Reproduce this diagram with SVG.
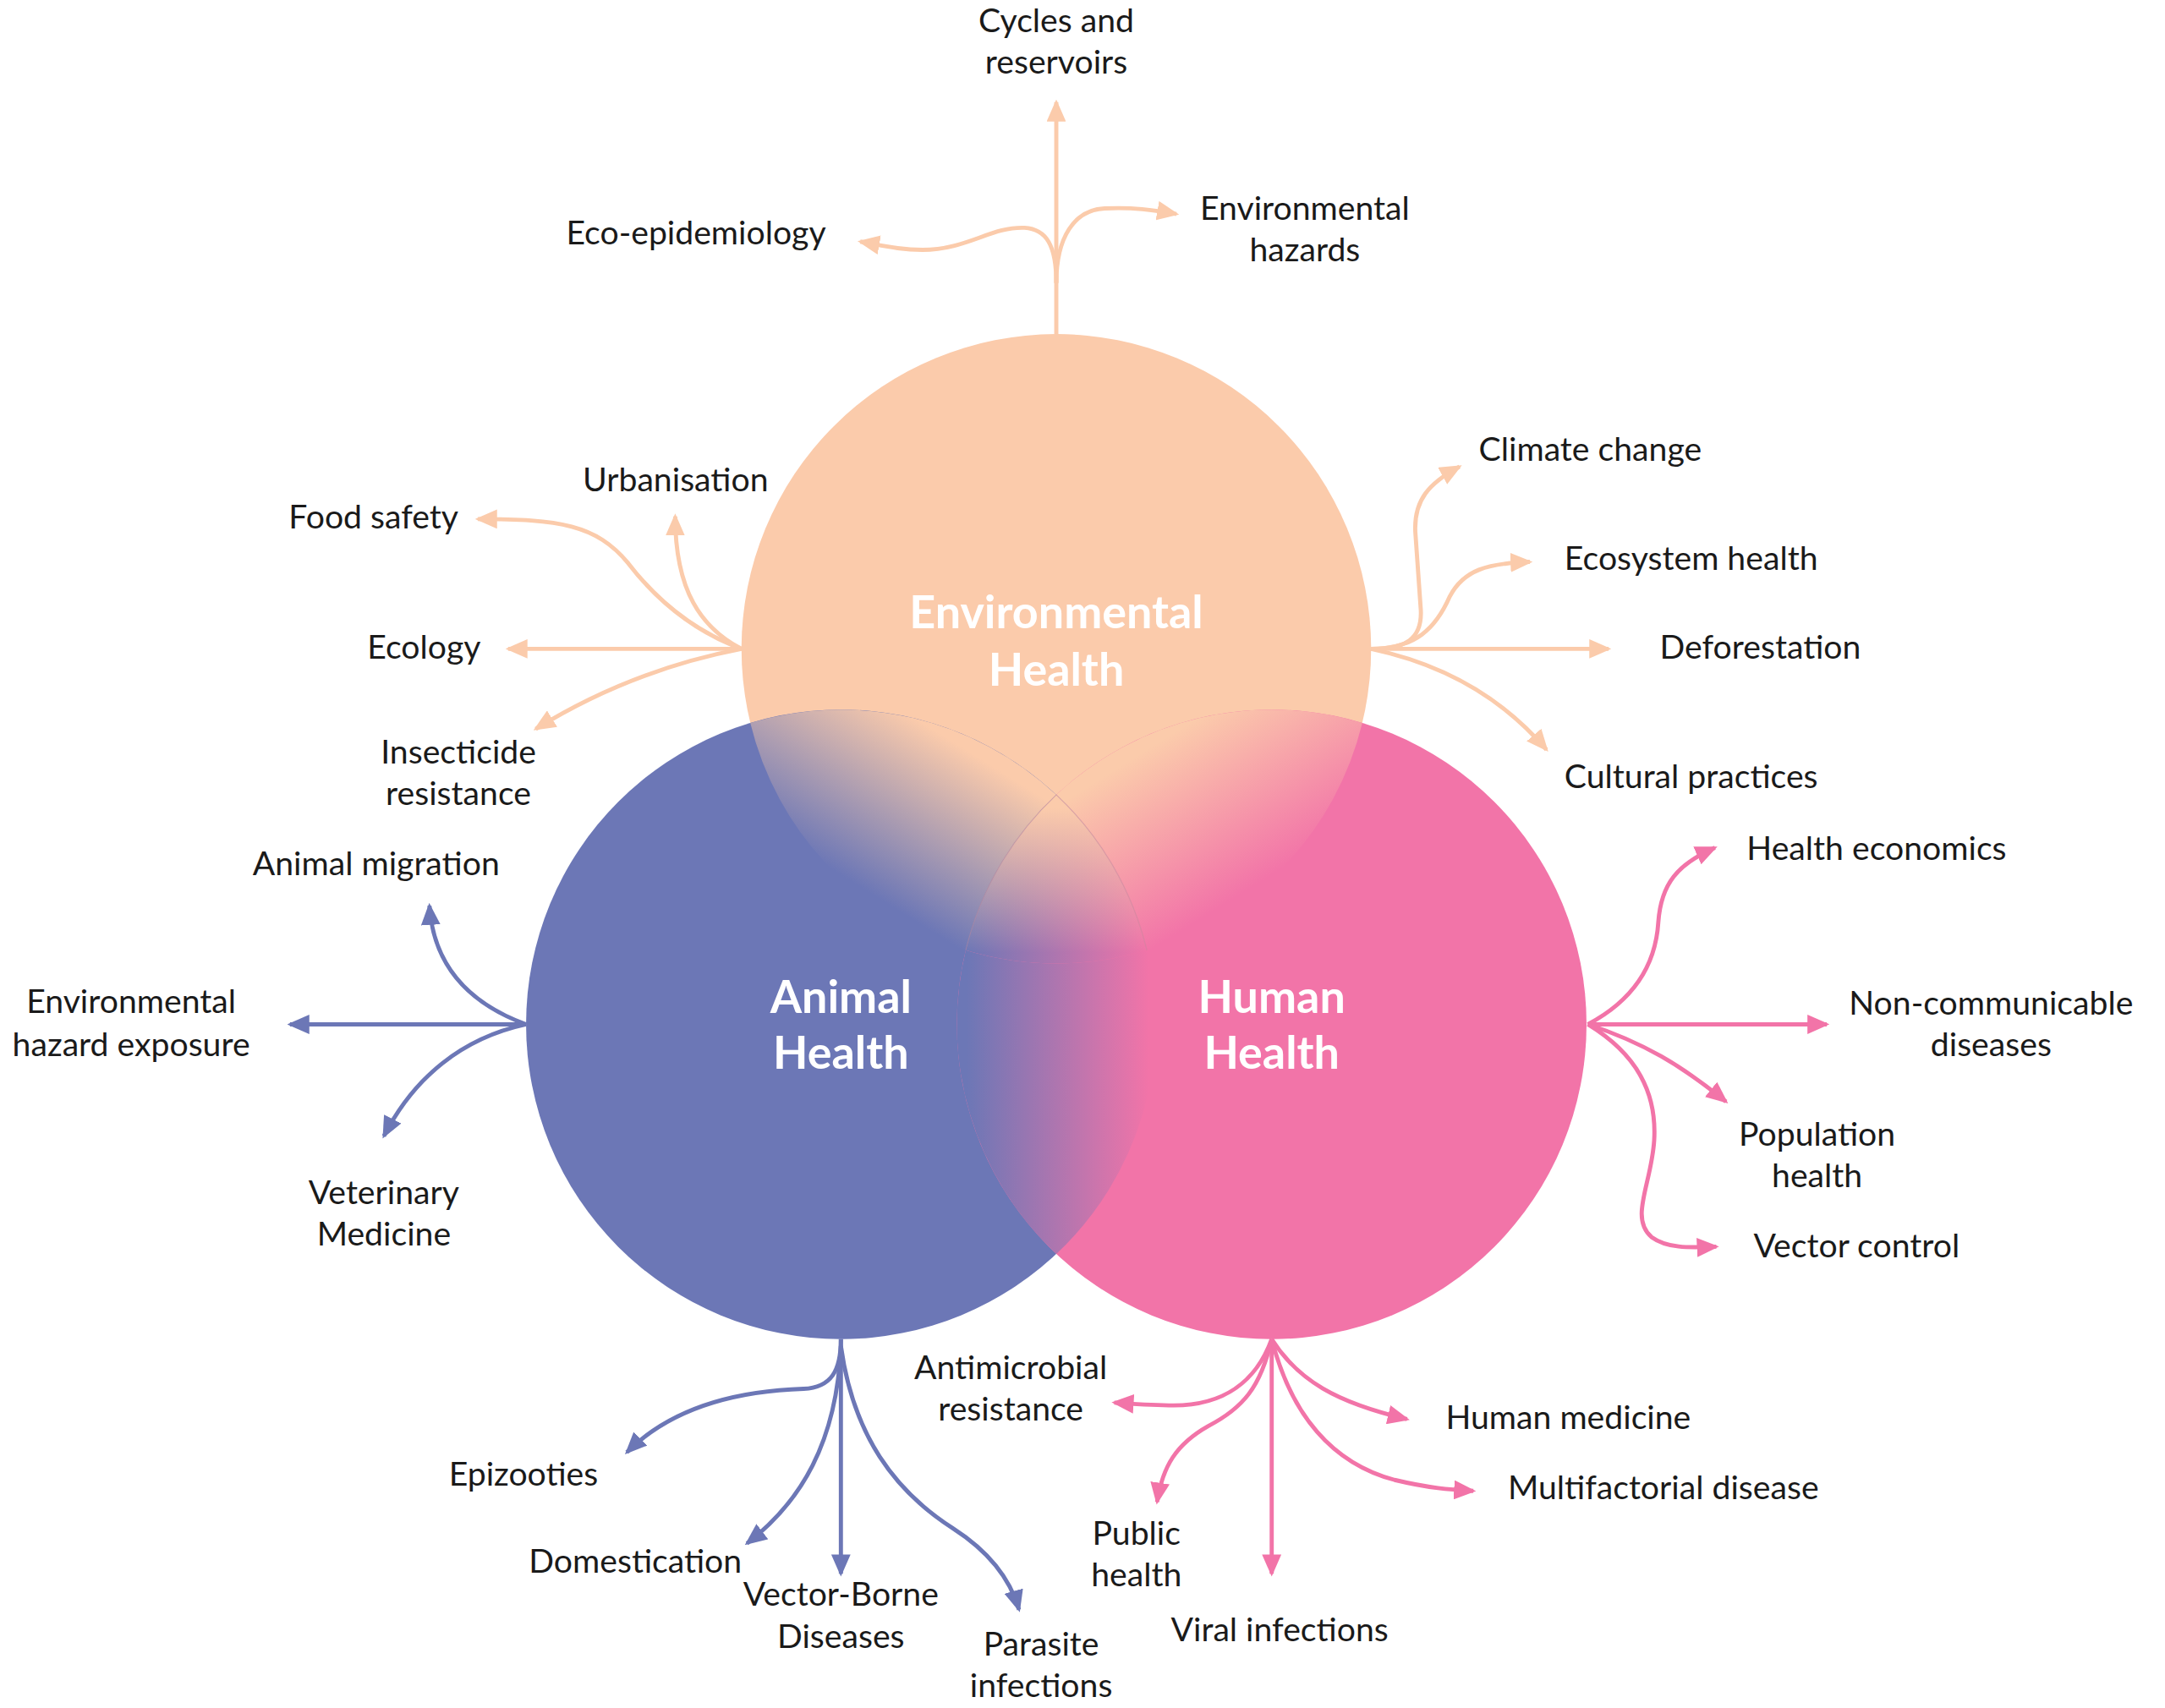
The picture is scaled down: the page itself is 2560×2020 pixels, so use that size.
<svg xmlns="http://www.w3.org/2000/svg" width="2560" height="2020" viewBox="0 0 2560 2020">
<style>
.lbl{font-family:Lato,"Open Sans","Liberation Sans",sans-serif;font-size:24px;fill:#1a1a1a}
.mid{text-anchor:middle}
.ttl{font-family:Lato,"Open Sans","Liberation Sans",sans-serif;font-size:33px;font-weight:700;fill:#ffffff;text-anchor:middle}
.ce{fill:none;stroke:#FBCBAB;stroke-width:3;marker-end:url(#mE)}
.ca{fill:none;stroke:#6C77B6;stroke-width:3;marker-end:url(#mA)}
.ch{fill:none;stroke:#F274A8;stroke-width:3;marker-end:url(#mH)}
</style>
<defs>
<marker id="mE" viewBox="0 0 16 14" markerUnits="userSpaceOnUse" markerWidth="16" markerHeight="14" refX="14" refY="7" orient="auto"><path d="M0,0 L16,7 L0,14 Z" fill="#FBCBAB"/></marker>
<marker id="mA" viewBox="0 0 16 14" markerUnits="userSpaceOnUse" markerWidth="16" markerHeight="14" refX="14" refY="7" orient="auto"><path d="M0,0 L16,7 L0,14 Z" fill="#6C77B6"/></marker>
<marker id="mH" viewBox="0 0 16 14" markerUnits="userSpaceOnUse" markerWidth="16" markerHeight="14" refX="14" refY="7" orient="auto"><path d="M0,0 L16,7 L0,14 Z" fill="#F274A8"/></marker>
<linearGradient id="gL" gradientUnits="userSpaceOnUse" x1="640" y1="653" x2="706" y2="547">
<stop offset="0" stop-color="#6C77B6"/><stop offset="1" stop-color="#FBCBAB"/>
</linearGradient>
<linearGradient id="gR" gradientUnits="userSpaceOnUse" x1="890" y1="653" x2="824" y2="547">
<stop offset="0" stop-color="#F274A8"/><stop offset="1" stop-color="#FBCBAB"/>
</linearGradient>
<linearGradient id="gH" gradientUnits="userSpaceOnUse" x1="700" y1="0" x2="832" y2="0">
<stop offset="0" stop-color="#6C77B6"/><stop offset="1" stop-color="#F274A8"/>
</linearGradient>
<linearGradient id="gT" gradientUnits="userSpaceOnUse" x1="0" y1="585" x2="0" y2="690">
<stop offset="0" stop-color="#FBCBAB" stop-opacity="1"/><stop offset="1" stop-color="#FBCBAB" stop-opacity="0"/>
</linearGradient>
</defs>
<rect width="2560" height="2020" fill="#ffffff"/>
<g transform="scale(1.6327)">
<g id="circles">
<circle id="env-circle" cx="765" cy="470" r="228" fill="#FBCBAB"/>
<circle id="animal-circle" cx="609" cy="742" r="228" fill="#6C77B6"/>
<circle id="human-circle" cx="921" cy="742" r="228" fill="#F274A8"/>
<path id="overlap-env-animal" d="M543.4,523.7 A228,228 0 0 1 765,575.7 A228,228 0 0 0 699.4,688.3 A228,228 0 0 1 543.4,523.7 Z" fill="url(#gL)"/>
<path id="overlap-env-human" d="M986.6,523.7 A228,228 0 0 0 765,575.7 A228,228 0 0 1 830.6,688.3 A228,228 0 0 0 986.6,523.7 Z" fill="url(#gR)"/>
<path id="overlap-animal-human" d="M699.4,688.3 A228,228 0 0 0 765,908.3 A228,228 0 0 0 830.6,688.3 A228,228 0 0 1 699.4,688.3 Z" fill="url(#gH)"/>
<path id="overlap-all" d="M765,575.7 A228,228 0 0 1 830.6,688.3 A228,228 0 0 1 699.4,688.3 A228,228 0 0 1 765,575.7 Z" fill="url(#gH)"/>
<path d="M765,575.7 A228,228 0 0 1 830.6,688.3 A228,228 0 0 1 699.4,688.3 A228,228 0 0 1 765,575.7 Z" fill="url(#gT)"/>
<path d="M699.4,688.3 A228,228 0 0 1 765,575.7 A228,228 0 0 1 830.6,688.3" fill="none" stroke="#B98C9C" stroke-opacity="0.35" stroke-width="0.8"/>
</g>
<g id="connectors">
<path class="ce" d="M765,242 L765,74"/>
<path class="ce" d="M765,205 C765,178 758,166 742,165 C718,164 700,181 668,181 C652,181 640,178 623,175"/>
<path class="ce" d="M765,205 C765,172 778,152 800,151 C820,150 835,152 852,155"/>
<path class="ce" d="M537,470 C505,458 478,438 455,408 C432,380 405,376 346,376"/>
<path class="ce" d="M537,470 C508,455 489,428 489,374"/>
<path class="ce" d="M537,470 L368,470"/>
<path class="ce" d="M537,470 C480,481 430,502 388,528"/>
<path class="ce" d="M993,470 C1018,470 1030,463 1029,442 L1025,385 C1024,362 1035,350 1057,338"/>
<path class="ce" d="M993,470 C1025,470 1040,455 1050,432 C1060,413 1077,408 1108,407"/>
<path class="ce" d="M993,470 L1165,470"/>
<path class="ce" d="M993,470 C1040,480 1085,502 1120,543"/>
<path class="ca" d="M381,742 C343,728 314,702 311,656"/>
<path class="ca" d="M381,742 L210,742"/>
<path class="ca" d="M381,742 C335,752 300,780 278,823"/>
<path class="ca" d="M609,970 C609,993 602,1005 582,1006 C520,1008 480,1026 454,1052"/>
<path class="ca" d="M609,975 C606,1045 580,1088 541,1118"/>
<path class="ca" d="M609,970 L609,1140"/>
<path class="ca" d="M609,975 C618,1040 648,1080 690,1107 C718,1125 732,1145 738,1166"/>
<path class="ch" d="M1150,742 C1182,725 1199,700 1201,668 C1203,640 1215,626 1242,614"/>
<path class="ch" d="M1150,742 L1323,742"/>
<path class="ch" d="M1150,742 C1190,755 1218,772 1250,798"/>
<path class="ch" d="M1150,742 C1186,764 1200,792 1198,826 C1196,858 1180,882 1196,896 C1207,904 1222,904 1243,903"/>
<path class="ch" d="M921,970 C910,1000 887,1018 850,1018 C835,1018 822,1017 807,1016"/>
<path class="ch" d="M921,970 C913,1005 900,1020 875,1033 C852,1046 842,1062 838,1088"/>
<path class="ch" d="M921,970 L921,1140"/>
<path class="ch" d="M921,970 C940,1000 968,1016 1019,1028"/>
<path class="ch" d="M921,970 C935,1025 965,1060 1010,1072 C1035,1078 1050,1079 1067,1080"/>
</g>
<g id="titles">
<text class="ttl" x="765" y="455">Environmental</text>
<text class="ttl" x="765" y="497">Health</text>
<text class="ttl" x="609" y="734">Animal</text>
<text class="ttl" x="609" y="774">Health</text>
<text class="ttl" x="921" y="734">Human</text>
<text class="ttl" x="921" y="774">Health</text>
</g>
<g id="labels">
<text class="lbl mid" x="765" y="23">Cycles and</text>
<text class="lbl mid" x="765" y="53">reservoirs</text>
<text class="lbl" x="410" y="177">Eco-epidemiology</text>
<text class="lbl mid" x="945" y="159">Environmental</text>
<text class="lbl mid" x="945" y="189">hazards</text>
<text class="lbl" x="422" y="356">Urbanisation</text>
<text class="lbl" x="209" y="383">Food safety</text>
<text class="lbl" x="266" y="477">Ecology</text>
<text class="lbl mid" x="332" y="553">Insecticide</text>
<text class="lbl mid" x="332" y="583">resistance</text>
<text class="lbl" x="1071" y="334">Climate change</text>
<text class="lbl" x="1133" y="413">Ecosystem health</text>
<text class="lbl" x="1202" y="477">Deforestation</text>
<text class="lbl" x="1133" y="571">Cultural practices</text>
<text class="lbl" x="183" y="634">Animal migration</text>
<text class="lbl mid" x="95" y="734">Environmental</text>
<text class="lbl mid" x="95" y="765">hazard exposure</text>
<text class="lbl mid" x="278" y="872">Veterinary</text>
<text class="lbl mid" x="278" y="902">Medicine</text>
<text class="lbl" x="325" y="1076">Epizooties</text>
<text class="lbl" x="383" y="1139">Domestication</text>
<text class="lbl mid" x="609" y="1163">Vector-Borne</text>
<text class="lbl mid" x="609" y="1194">Diseases</text>
<text class="lbl mid" x="754" y="1199">Parasite</text>
<text class="lbl mid" x="754" y="1229">infections</text>
<text class="lbl" x="1265" y="623">Health economics</text>
<text class="lbl mid" x="1442" y="735">Non-communicable</text>
<text class="lbl mid" x="1442" y="765">diseases</text>
<text class="lbl mid" x="1316" y="830">Population</text>
<text class="lbl mid" x="1316" y="860">health</text>
<text class="lbl" x="1270" y="911">Vector control</text>
<text class="lbl mid" x="732" y="999">Antimicrobial</text>
<text class="lbl mid" x="732" y="1029">resistance</text>
<text class="lbl mid" x="823" y="1119">Public</text>
<text class="lbl mid" x="823" y="1149">health</text>
<text class="lbl" x="848" y="1189">Viral infections</text>
<text class="lbl" x="1047" y="1035">Human medicine</text>
<text class="lbl" x="1092" y="1086">Multifactorial disease</text>
</g>
</g>
</svg>
